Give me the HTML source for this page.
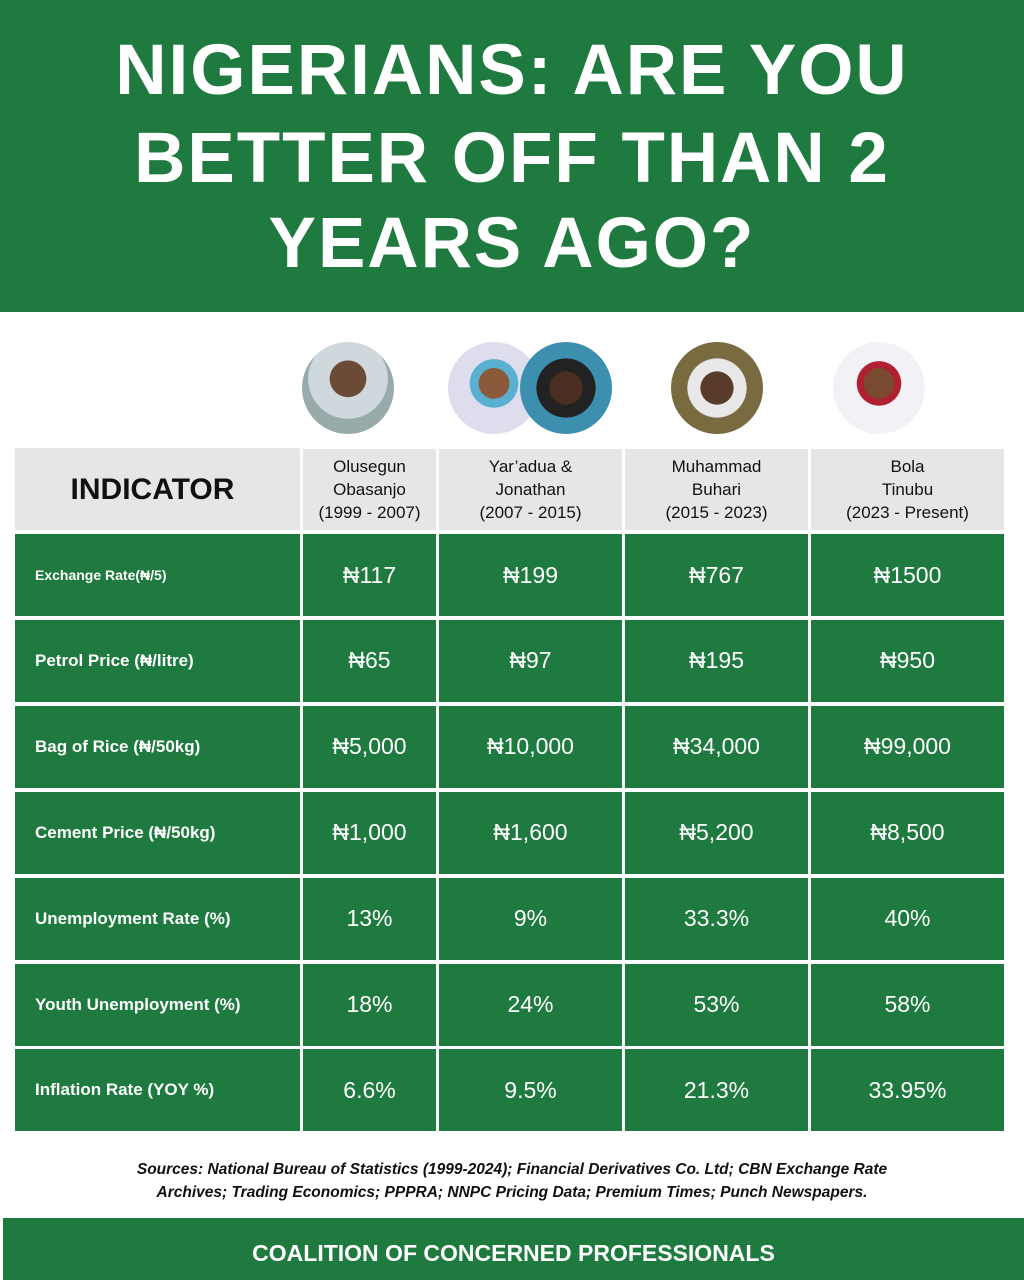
<!DOCTYPE html>
<html><head><meta charset="utf-8"><style>
body{margin:0;width:1024px;height:1280px;background:#fff;position:relative;overflow:hidden;font-family:"Liberation Sans",sans-serif}
.hdr{position:absolute;left:0;top:0;width:1024px;height:312px;background:#1e7a3e}
.hdr div{position:absolute;left:0;width:1024px;text-align:center;color:#fff;font-weight:bold;font-size:71px;line-height:86px;letter-spacing:2px}
.c{position:absolute;display:flex;align-items:center;justify-content:center;text-align:center}
.g{background:#1e7a3e;color:#fff}
.h{background:#e6e6e6;color:#111;font-size:17px;line-height:23px}
.v{font-size:23px}
.l{justify-content:flex-start;padding-left:20px;box-sizing:border-box;font-weight:bold;font-size:17px}
.p{position:absolute;width:92px;height:92px;border-radius:50%;overflow:hidden}
</style></head><body>
<div class="hdr">
<div style="top:28px">NIGERIANS: ARE YOU</div>
<div style="top:116px">BETTER OFF THAN 2</div>
<div style="top:201px">YEARS AGO?</div>
</div>
<div class="p" style="left:302px;top:342px;background:radial-gradient(circle at 50% 40%,#6b4a36 0 25%,#cfd8dd 26% 55%,#9aa 56%)"></div>
<div class="p" style="left:448px;top:342px;background:radial-gradient(circle at 50% 45%,#8a5a3a 0 22%,#5ab0d0 23% 35%,#dde 36%)"></div>
<div class="p" style="left:520px;top:342px;background:radial-gradient(circle at 50% 50%,#4a2e20 0 25%,#222 26% 45%,#3d8fb0 46%)"></div>
<div class="p" style="left:671px;top:342px;background:radial-gradient(circle at 50% 50%,#5a3a2a 0 25%,#e8e8e8 26% 45%,#7a6a40 46%)"></div>
<div class="p" style="left:833px;top:342px;background:radial-gradient(circle at 50% 45%,#7a4a30 0 22%,#b02030 23% 32%,#f2f2f6 33%)"></div>

<div class="c h" style="left:15px;top:448px;width:285px;height:82px;font-size:30px;font-weight:bold;padding-right:10px;box-sizing:border-box">INDICATOR</div>
<div class="c h" style="left:303px;top:449px;width:133px;height:81px">Olusegun<br>Obasanjo<br>(1999 - 2007)</div>
<div class="c h" style="left:439px;top:449px;width:183px;height:81px">Yar’adua &amp;<br>Jonathan<br>(2007 - 2015)</div>
<div class="c h" style="left:625px;top:449px;width:183px;height:81px">Muhammad<br>Buhari<br>(2015 - 2023)</div>
<div class="c h" style="left:811px;top:449px;width:193px;height:81px">Bola<br>Tinubu<br>(2023 - Present)</div>

<div id="rows"></div>
<script>
var d=[["Exchange Rate(₦/5)","₦117","₦199","₦767","₦1500",14],
["Petrol Price (₦/litre)","₦65","₦97","₦195","₦950"],
["Bag of Rice (₦/50kg)","₦5,000","₦10,000","₦34,000","₦99,000"],
["Cement Price (₦/50kg)","₦1,000","₦1,600","₦5,200","₦8,500"],
["Unemployment Rate (%)","13%","9%","33.3%","40%"],
["Youth Unemployment (%)","18%","24%","53%","58%"],
["Inflation Rate (YOY %)","6.6%","9.5%","21.3%","33.95%"]];
var cols=[[15,285],[303,133],[439,183],[625,183],[811,193]],h="";
d.forEach(function(r,i){var y=534+i*85.9;
for(var j=0;j<5;j++){h+='<div class="c g '+(j?'v':'l')+'" style="left:'+cols[j][0]+'px;top:'+y+'px;width:'+cols[j][1]+'px;height:82px;'+(j==0&&r[5]?'font-size:14px':'')+'">'+r[j]+'</div>';}});
document.getElementById('rows').innerHTML=h;
</script>
<div style="position:absolute;left:0;top:1158px;width:1024px;text-align:center;font-size:15.5px;font-style:italic;font-weight:bold;line-height:23px;color:#111">Sources: National Bureau of Statistics (1999-2024); Financial Derivatives Co. Ltd; CBN Exchange Rate<br>Archives; Trading Economics; PPPRA; NNPC Pricing Data; Premium Times; Punch Newspapers.</div>
<div class="c g" style="left:3px;top:1218px;width:1021px;height:62px;font-size:23px;font-weight:bold;padding-top:8px;box-sizing:border-box">COALITION OF CONCERNED PROFESSIONALS</div>
</body></html>
